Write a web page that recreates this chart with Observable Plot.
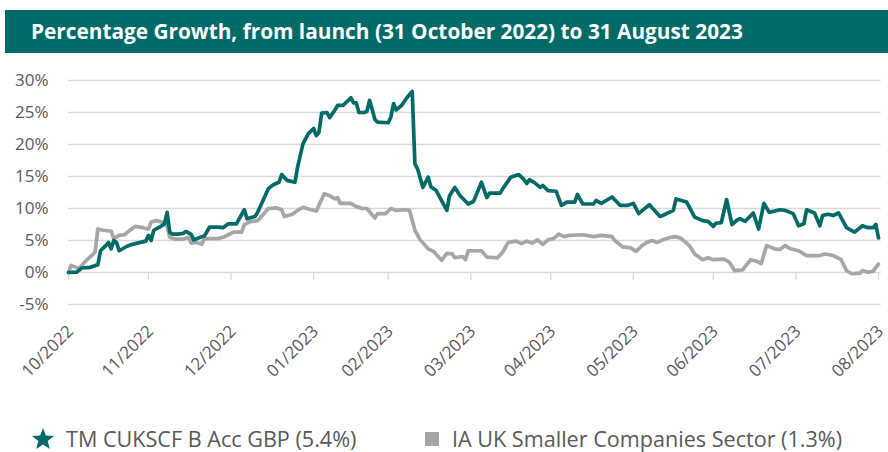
<!DOCTYPE html>
<html><head><meta charset="utf-8">
<script src="https://cdn.jsdelivr.net/npm/d3@7"></script>
<script src="https://cdn.jsdelivr.net/npm/@observablehq/plot@0.6"></script>
<style>
body{margin:0;width:888px;height:452px;overflow:hidden;background:#fff;font-family:"Open Sans",sans-serif;position:relative}
#title{position:absolute;left:5px;top:10px;width:883px;height:43px;background:#006B66;color:#fff;font-weight:700;font-size:20.8px;line-height:43px;box-sizing:border-box;padding-left:26px;white-space:nowrap}
#chart{position:absolute;left:0;top:60px}
.leg{position:absolute;top:426px;height:25px;display:flex;align-items:center;font-size:21.6px;line-height:25px;color:#595959;white-space:nowrap}
</style></head>
<body>
<div id="title">Percentage Growth, from launch (31 October 2022) to 31 August 2023</div>
<div id="chart"></div>
<div class="leg" style="left:31px"><svg width="24" height="24" viewBox="0 0 24 24" style="margin-right:11px"><polygon points="12,1 14.9,8.6 23,9 16.7,14.1 18.8,22 12,17.6 5.2,22 7.3,14.1 1,9 9.1,8.6" fill="#006B66"/></svg><span id="l1"></span></div>
<div class="leg" style="left:425px"><svg width="14" height="14" style="margin-right:13px"><rect width="14" height="14" fill="#A6A6A6"/></svg><span id="l2"></span></div>
<script>
const seriesNames = ["TM CUKSCF B Acc GBP (5.4%)", "IA UK Smaller Companies Sector (1.3%)"];
const seriesColors = ["#006B66", "#A6A6A6"];
const launchDate = "2022-10-31";
const endDate = "2023-08-31";
const tickDates = ["2022-10-31","2022-11-30","2022-12-31","2023-01-31","2023-02-28","2023-03-31","2023-04-30","2023-05-31","2023-06-30","2023-07-31","2023-08-31"];
const tickLabels = ["10/2022","11/2022","12/2022","01/2023","02/2023","03/2023","04/2023","05/2023","06/2023","07/2023","08/2023"];
const yTicks = [-5, 0, 5, 10, 15, 20, 25, 30];
// [days since launch, % growth]
const fundPoints = [[0,0],[3,0.05],[5,0.7],[8,0.8],[11,1.2],[12,3.4],[14,4.2],[15,4.7],[16,3.7],[17,5.0],[18,4.7],[19,3.4],[22,4.1],[24,4.4],[27,4.7],[29,4.9],[30,5.8],[31,5.0],[32,6.6],[35,7.3],[36,7.6],[37,9.4],[38,6.3],[39,6.0],[41,6.0],[43,6.1],[44,6.4],[46,6.0],[47,5.1],[50,5.6],[51,5.7],[53,7.1],[56,7.1],[58,7.0],[60,7.6],[63,7.6],[66,9.8],[67,8.4],[70,8.75],[71,9.4],[75,13.1],[77,13.75],[79,14.1],[80,15.3],[82,14.4],[85,14.1],[86,16.5],[88,20.1],[90,21.7],[92,22.5],[93,21.4],[94,21.9],[95,24.9],[97,25.0],[98,24.2],[100,25.4],[101,26.1],[103,26.1],[104,26.5],[106,27.3],[107,26.5],[108,26.5],[109,25.0],[111,25.0],[112,25.2],[113,26.9],[115,23.9],[116,23.5],[120,23.4],[121,24.3],[122,26.4],[123,25.4],[125,26.1],[127,27.3],[129,28.3],[130,17.0],[131,16.2],[133,13.3],[135,14.9],[136,13.4],[138,12.8],[142,9.7],[143,12.0],[145,13.3],[147,12.0],[150,10.7],[152,11.1],[155,14.1],[157,11.7],[158,12.4],[162,12.4],[163,13.1],[166,14.9],[169,15.3],[171,14.5],[172,13.9],[173,14.5],[175,14.0],[177,13.3],[178,13.6],[180,12.8],[183,12.7],[185,10.5],[187,11.0],[190,11.0],[191,12.2],[193,10.7],[197,10.7],[198,11.25],[200,10.8],[204,11.8],[207,10.5],[210,10.5],[212,10.8],[214,9.2],[218,10.6],[222,8.75],[223,8.9],[227,9.7],[228,11.5],[232,11.0],[233,10.2],[235,8.65],[238,8.1],[240,8.0],[242,7.2],[243,7.7],[245,7.8],[247,11.4],[249,7.5],[251,8.2],[252,8.4],[254,8.0],[257,9.3],[259,6.8],[261,10.8],[263,9.4],[267,9.8],[269,9.7],[272,9.2],[274,7.3],[276,7.6],[277,9.8],[280,9.3],[282,7.3],[283,8.9],[285,9.1],[287,8.9],[289,9.3],[292,7.0],[295,6.3],[298,7.3],[300,7.0],[302,7.0],[303,7.5],[304,5.4]];
const sectorPoints = [[0,0],[1,1.1],[3,0.8],[4,0.6],[6,1.6],[9,2.8],[10,3.2],[11,6.8],[13,6.6],[16,6.45],[17,5.3],[19,5.8],[21,5.9],[23,6.6],[25,7.2],[28,7.0],[30,6.8],[31,7.9],[33,8.1],[35,7.9],[37,7.3],[38,5.5],[40,5.2],[43,5.2],[45,5.5],[46,4.6],[48,4.7],[50,4.4],[51,5.3],[56,5.3],[58,5.5],[60,5.9],[62,6.3],[65,6.3],[66,7.5],[68,7.9],[71,8.1],[75,10.0],[78,10.1],[80,9.8],[81,8.75],[84,9.1],[86,9.7],[88,10.2],[91,9.8],[93,9.6],[96,12.3],[98,12.0],[100,11.5],[101,11.7],[102,10.8],[106,10.8],[108,10.3],[109,10.2],[110,10.0],[112,10.0],[115,8.5],[116,9.2],[119,9.2],[121,10.0],[123,9.7],[126,9.8],[128,9.7],[130,6.6],[132,5.1],[135,3.7],[137,3.3],[140,1.9],[142,3.0],[144,2.9],[145,2.3],[148,2.5],[149,2.0],[150,3.4],[155,3.4],[157,2.4],[161,2.3],[163,3.2],[165,4.7],[168,4.9],[170,4.5],[172,4.9],[174,4.6],[176,5.1],[178,4.4],[180,5.1],[182,5.3],[184,6.0],[186,5.6],[188,5.8],[193,5.9],[197,5.6],[200,5.8],[204,5.6],[205,5.0],[208,4.0],[211,3.85],[213,3.3],[215,4.1],[217,4.7],[219,5.0],[221,4.7],[223,5.1],[226,5.5],[228,5.6],[230,5.3],[233,4.2],[235,2.9],[238,2.0],[240,2.3],[242,2.0],[246,2.1],[248,1.6],[250,0.3],[253,0.4],[256,2.0],[258,1.8],[260,1.4],[262,4.2],[265,3.7],[267,3.6],[269,4.2],[271,3.7],[274,3.4],[277,2.65],[282,2.65],[284,2.9],[287,2.65],[290,2.0],[292,0.3],[294,-0.2],[297,-0.1],[298,0.3],[300,0.05],[302,0.2],[304,1.3]];

document.getElementById("l1").textContent = seriesNames[0];
document.getElementById("l2").textContent = seriesNames[1];

const launch = new Date(launchDate);
const toRows = pts => pts.map(([d, v]) => ({date: d3.utcDay.offset(launch, d), value: v}));
const fund = toRows(fundPoints);
const sector = toRows(sectorPoints);
const ticks = tickDates.map((t, i) => ({date: new Date(t), label: tickLabels[i]}));

const chart = Plot.plot({
  width: 888,
  height: 345,
  marginLeft: 68,
  marginRight: 10,
  marginTop: 20,
  marginBottom: 101,
  style: {fontFamily: "'Open Sans', sans-serif", fontSize: "17px", color: "#595959", background: "transparent"},
  x: {type: "utc", domain: [new Date(launchDate), new Date(endDate)], axis: null},
  y: {domain: [-5, 30], axis: null},
  marks: [
    Plot.ruleY(yTicks, {stroke: "#D9D9D9", strokeWidth: 1.3, x1: new Date(launchDate), x2: d3.utcDay.offset(new Date(endDate), 1)}),
    Plot.text(yTicks, {x: new Date(launchDate), y: d => d, text: d => `${d}%`, textAnchor: "end", dx: -20, fill: "#595959", fontSize: 17}),
    Plot.ruleX(ticks, {x: "date", y1: 0, y2: -1.25, stroke: "#D9D9D9", strokeWidth: 1.3}),
    Plot.text(ticks, {x: "date", y: -5, text: "label", rotate: -45, textAnchor: "end", dx: 2, dy: 24, fill: "#595959", fontSize: 17}),
    Plot.line(sector, {x: "date", y: "value", stroke: seriesColors[1], strokeWidth: 3.7, strokeLinejoin: "round"}),
    Plot.line(fund, {x: "date", y: "value", stroke: seriesColors[0], strokeWidth: 3.7, strokeLinejoin: "round"})
  ]
});
document.getElementById("chart").appendChild(chart);
</script>
</body></html>
